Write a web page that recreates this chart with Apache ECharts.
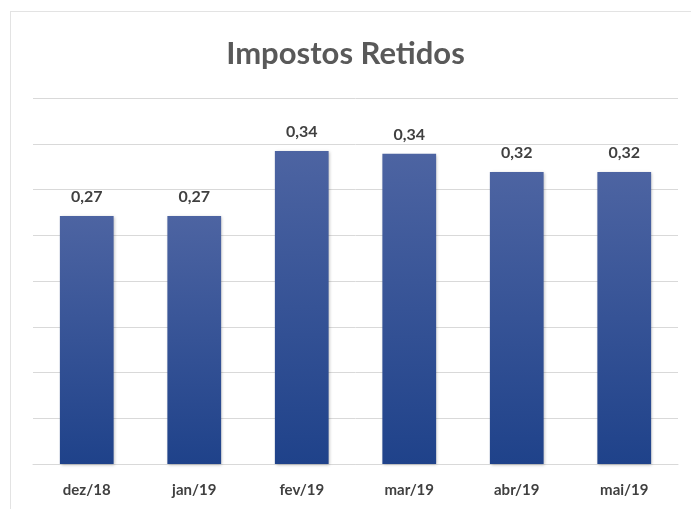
<!DOCTYPE html>
<html>
<head>
<meta charset="utf-8">
<script src="https://cdn.jsdelivr.net/npm/echarts@6/dist/echarts.min.js"></script>
<style>
  html, body { margin: 0; padding: 0; background: #fff; }
  #frame { position: absolute; left: 10px; top: 11px; width: 700px; height: 520px;
           border-left: 1px solid #e3e3e3; border-top: 1px solid #e3e3e3; }
  #chart { position: absolute; left: 0; top: 0; width: 691px; height: 509px; }
</style>
</head>
<body>
<div id="frame"></div>
<div id="chart"></div>
<script>
  // dados
  const meses = ['dez/18', 'jan/19', 'fev/19', 'mar/19', 'abr/19', 'mai/19']
  const impostos = [0.271, 0.271, 0.342, 0.339, 0.319, 0.319]

  const chart = echarts.init(document.getElementById('chart'))
  const fonte = 'Lato, "Open Sans", sans-serif'

  const option = {
    animation: false,
    title: {
      text: 'Impostos Retidos',
      left: 'center',
      top: 33,
      textStyle: { fontFamily: fonte, fontSize: 31, fontWeight: 'bold', color: '#595959' }
    },
    grid: { left: 33, right: 13, top: 98, bottom: 45, containLabel: false },
    xAxis: {
      type: 'category',
      data: meses,
      axisTick: { show: false },
      axisLine: { lineStyle: { color: '#d9d9d9', width: 1 } },
      axisLabel: { fontFamily: fonte, fontSize: 15, fontWeight: 'bold', color: '#404040', margin: 19 }
    },
    yAxis: {
      type: 'value',
      min: 0,
      max: 0.4,
      interval: 0.05,
      axisLabel: { show: false },
      axisLine: { show: false },
      axisTick: { show: false },
      splitLine: { lineStyle: { color: '#d9d9d9', width: 1 } }
    },
    series: [{
      type: 'bar',
      data: impostos,
      barWidth: '50%',
      itemStyle: {
        color: new echarts.graphic.LinearGradient(0, 0, 0, 1, [
          { offset: 0, color: '#4d64a2' },
          { offset: 1, color: '#1f428a' }
        ]),
        shadowColor: 'rgba(0,0,0,0.25)',
        shadowBlur: 3,
        shadowOffsetX: 1,
        shadowOffsetY: 1
      },
      label: {
        show: true,
        position: 'top',
        distance: 11,
        fontFamily: fonte,
        fontSize: 16,
        fontWeight: 'bold',
        color: '#404040',
        formatter: p => p.value.toFixed(2).replace('.', ',')
      }
    }]
  }
  chart.setOption(option)
</script>
</body>
</html>
